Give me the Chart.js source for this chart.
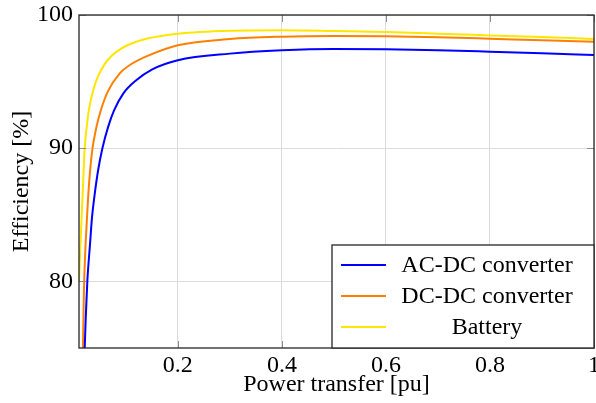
<!DOCTYPE html>
<html>
<head>
<meta charset="utf-8">
<title>Efficiency</title>
<script src="https://cdn.jsdelivr.net/npm/chart.js@4/dist/chart.umd.min.js"></script>
<style>
    html, body { margin: 0; padding: 0; background: #ffffff; }
    #wrap { width: 596px; height: 403px; }
</style>
</head>
<body>
<div id="wrap"><canvas id="effChart" width="596" height="403"></canvas></div>
<script>
'use strict';

// values
const seriesNames = ['AC-DC converter', 'DC-DC converter', 'Battery'];

const acdcX = [0.019, 0.021, 0.023, 0.026, 0.031, 0.035, 0.04, 0.047, 0.055, 0.066, 0.077, 0.095, 0.12, 0.15, 0.2, 0.3, 0.4, 0.5, 0.6, 0.7, 0.8, 0.9, 1.0];
const acdcY = [72.5, 75, 77.3, 80, 82.7, 84.8, 86.5, 88.4, 90, 91.6, 92.8, 94.1, 95.1, 95.9, 96.6, 97.1, 97.35, 97.45, 97.43, 97.36, 97.25, 97.13, 97.0];

const dcdcX = [0.0155, 0.0175, 0.0195, 0.022, 0.025, 0.028, 0.032, 0.036, 0.043, 0.052, 0.066, 0.088, 0.11, 0.143, 0.2, 0.3, 0.4, 0.5, 0.6, 0.7, 0.8, 0.9, 1.0];
const dcdcY = [72.5, 75, 79.3, 82.2, 84.5, 86.6, 88.6, 90, 91.5, 92.85, 94.3, 95.6, 96.3, 96.95, 97.73, 98.2, 98.37, 98.42, 98.4, 98.33, 98.22, 98.1, 98.0];

const batteryX = [0.01, 0.0125, 0.015, 0.0175, 0.021, 0.026, 0.03, 0.037, 0.047, 0.06, 0.072, 0.088, 0.104, 0.143, 0.2, 0.3, 0.4, 0.5, 0.6, 0.7, 0.8, 0.9, 1.0];
const batteryY = [80, 82.5, 84.8, 87.0, 90.0, 92.0, 93.1, 94.3, 95.45, 96.35, 96.9, 97.4, 97.75, 98.25, 98.6, 98.82, 98.86, 98.8, 98.72, 98.6, 98.47, 98.34, 98.2];

const xTicks = [0.2, 0.4, 0.6, 0.8, 1];
const xTickLabels = ['0.2', '0.4', '0.6', '0.8', '1'];
const yTicks = [80, 90, 100];

const colors = ['rgb(0,0,255)', 'rgb(255,128,0)', 'rgb(255,230,0)'];
const serif = '"Liberation Serif", "DejaVu Serif", serif';

function toPoints(xs, ys) {
    return xs.map(function(x, i) { return { x: x, y: ys[i] }; });
}

function lineSet(i, xs, ys) {
    return {
        label: seriesNames[i],
        data: toPoints(xs, ys),
        borderColor: colors[i],
        backgroundColor: colors[i],
        borderWidth: 2,
        pointRadius: 0,
        cubicInterpolationMode: 'monotone',
        fill: false,
        clip: 0
    };
}

// frame, inward tick marks and the boxed legend, pgfplots style
const framePlugin = {
    id: 'frame',
    afterDatasetsDraw: function(chart) {
        const ctx = chart.ctx;
        const area = chart.chartArea;
        const xs = chart.scales.x;
        const ys = chart.scales.y;

        ctx.save();
        ctx.strokeStyle = '#8c8c8c';
        ctx.lineWidth = 1;
        xTicks.forEach(function(v) {
            const px = Math.round(xs.getPixelForValue(v)) + 0.5;
            ctx.beginPath();
            ctx.moveTo(px, area.top);
            ctx.lineTo(px, area.top + 7);
            ctx.moveTo(px, area.bottom);
            ctx.lineTo(px, area.bottom - 7);
            ctx.stroke();
        });
        yTicks.forEach(function(v) {
            const py = Math.round(ys.getPixelForValue(v)) + 0.5;
            ctx.beginPath();
            ctx.moveTo(area.left, py);
            ctx.lineTo(area.left + 7, py);
            ctx.moveTo(area.right, py);
            ctx.lineTo(area.right - 7, py);
            ctx.stroke();
        });

        ctx.strokeStyle = '#262626';
        ctx.lineWidth = 1.3;
        ctx.strokeRect(area.left, area.top, area.right - area.left, area.bottom - area.top);

        // legend box in the lower right corner
        const boxW = 262;
        const boxH = 103;
        const left = area.right - boxW;
        const top = area.bottom - boxH;
        ctx.fillStyle = '#ffffff';
        ctx.fillRect(left, top, boxW, boxH);
        ctx.strokeRect(left, top, boxW, boxH);

        ctx.font = '24px ' + serif;
        ctx.textBaseline = 'middle';
        ctx.textAlign = 'center';
        chart.data.datasets.forEach(function(ds, i) {
            const rowY = top + 20 + i * 31;
            ctx.strokeStyle = ds.borderColor;
            ctx.lineWidth = 2;
            ctx.beginPath();
            ctx.moveTo(left + 9, rowY);
            ctx.lineTo(left + 54, rowY);
            ctx.stroke();
            ctx.fillStyle = '#000000';
            ctx.fillText(ds.label, left + 155, rowY + 1);
        });
        ctx.restore();
    }
};

const chart = new Chart(document.getElementById('effChart'), {
    type: 'line',
    data: {
        datasets: [
            lineSet(0, acdcX, acdcY),
            lineSet(1, dcdcX, dcdcY),
            lineSet(2, batteryX, batteryY)
        ]
    },
    options: {
        responsive: false,
        animation: false,
        layout: { padding: { top: 15, right: 2, left: 0, bottom: 0 } },
        plugins: {
            legend: { display: false },
            tooltip: { enabled: false }
        },
        scales: {
            x: {
                type: 'linear',
                min: 0.01,
                max: 1,
                afterBuildTicks: function(scale) {
                    scale.ticks = xTicks.map(function(v) { return { value: v }; });
                },
                afterFit: function(scale) {
                    scale.height = 55;
                    scale.paddingLeft = 0;
                    scale.paddingRight = 0;
                },
                ticks: {
                    color: '#000000',
                    padding: 3,
                    maxRotation: 0,
                    font: { family: serif, size: 24 },
                    callback: function(value) {
                        const i = xTicks.indexOf(value);
                        return i >= 0 ? xTickLabels[i] : '';
                    }
                },
                grid: { color: '#dcdcdc', drawTicks: false },
                border: { display: false },
                title: {
                    display: true,
                    text: 'Power transfer [pu]',
                    color: '#000000',
                    font: { family: serif, size: 24 },
                    padding: { top: 0, bottom: 4 }
                }
            },
            y: {
                min: 75,
                max: 100,
                afterBuildTicks: function(scale) {
                    scale.ticks = yTicks.map(function(v) { return { value: v }; });
                },
                afterFit: function(scale) {
                    scale.width = 79;
                    scale.paddingTop = 0;
                    scale.paddingBottom = 0;
                },
                ticks: {
                    color: '#000000',
                    padding: 6,
                    font: { family: serif, size: 24 }
                },
                grid: { color: '#dcdcdc', drawTicks: false },
                border: { display: false },
                title: {
                    display: true,
                    text: 'Efficiency [%]',
                    color: '#000000',
                    font: { family: serif, size: 24 },
                    padding: { top: 7, bottom: 0 }
                }
            }
        }
    },
    plugins: [framePlugin]
});
</script>
</body>
</html>
